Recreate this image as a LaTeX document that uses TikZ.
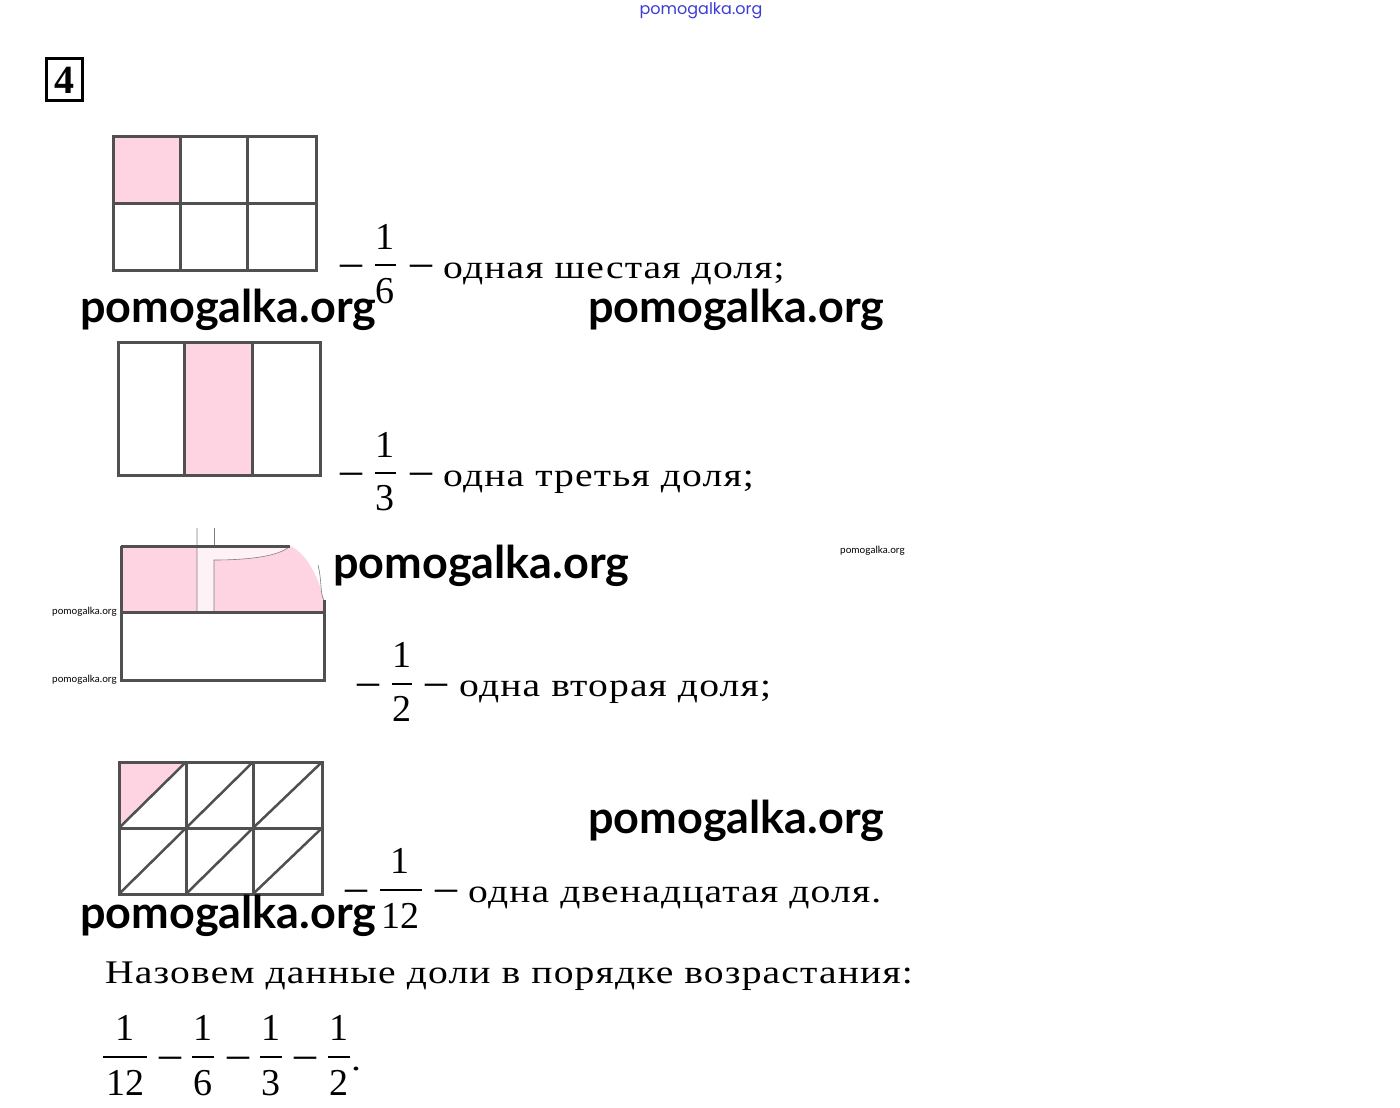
\documentclass[tikz,border=0pt]{standalone}
\usepackage{fontspec}
\setmainfont{Liberation Serif}
\newfontfamily\txtfont[FakeStretch=1.2,LetterSpace=3.5]{Liberation Serif}
\newfontfamily\wmfont{Lato}
\newfontfamily\topfont{Poppins}
\definecolor{pinkc}{RGB}{255,212,226}
\definecolor{gridc}{RGB}{80,80,80}
\definecolor{wmblue}{RGB}{60,60,215}
\begin{document}
\begin{tikzpicture}[x=1pt,y=-1pt,
  gridln/.style={line width=3pt, draw=gridc},
  txt/.style={anchor=base west, inner sep=0pt, font=\txtfont\fontsize{33}{40}\selectfont},
  num/.style={anchor=base, inner sep=0pt, font=\fontsize{38}{44}\selectfont},
  dsh/.style={anchor=base, inner sep=0pt, font=\fontsize{44}{50}\selectfont},
  fbar/.style={line width=2.5pt},
  wm/.style={anchor=base west, inner sep=0pt, font=\wmfont\bfseries\fontsize{45}{50}\selectfont},
  wms/.style={anchor=base west, inner sep=0pt, font=\wmfont\fontsize{10}{12}\selectfont},
]
\useasboundingbox (0,0) rectangle (1400,1108);
\fill[white] (0,0) rectangle (1400,1108);

% top watermark
\node[anchor=center, inner sep=0pt, text=wmblue, font=\topfont\fontsize{16}{18}\selectfont] (topwm) at (701,11) {pomogalka.org};

% task number
\draw[line width=3pt] (46,59) rectangle (82,100);
\node[anchor=base, inner sep=0pt, font=\bfseries\fontsize{40}{42}\selectfont] (task) at (64,93) {4};

% ---- grid 1 (1/6)
\fill[pinkc] (113,136) rectangle (180,203);
\draw[gridln] (113,136) rectangle (316,270);
\draw[gridln] (180,136)--(180,270) (247,136)--(247,270) (113,203)--(316,203);
\node[dsh] (a1) at (351,276) {–};
\node[num] (an) at (385,249) {1};
\draw[fbar] (375,265)--(396,265);
\node[num] (ad) at (385,303) {6};
\node[dsh] (a2) at (421,276) {–};
\node[txt] (at) at (443,278) {одная шестая доля;};

% ---- grid 2 (1/3)
\fill[pinkc] (184,342) rectangle (252,475);
\draw[gridln] (118,342) rectangle (320,475);
\draw[gridln] (184,342)--(184,475) (252,342)--(252,475);
\node[dsh] (b1) at (351,484) {–};
\node[num] (bn) at (385,457) {1};
\draw[fbar] (375,473)--(396,473);
\node[num] (bd) at (385,510) {3};
\node[dsh] (b2) at (421,484) {–};
\node[txt] (bt) at (443,486) {одна третья доля;};

% ---- grid 3 (1/2)
\fill[pinkc] (121,546) -- (290,546) .. controls (305,552) and (318,575) .. (324,600) -- (324,612) -- (121,612) -- cycle;
\fill[white, opacity=0.7] (197,528) rectangle (214,613);
\fill[white, opacity=0.7] (214,546) -- (290,546) .. controls (280,556) and (250,560) .. (214,560) -- cycle;
\draw[gray, line width=0.6pt] (197,528) -- (197,613) -- (214,613) -- (214,560) .. controls (250,560) and (280,556) .. (290,546);
\draw[gray, line width=0.6pt] (214,528) -- (214,545);
\draw[gray, line width=0.6pt] (318,565) .. controls (322,580) and (320,595) .. (324,600);
\draw[gridln] (121,546) -- (290,546);
\draw[gridln] (121,546) -- (121,680) -- (324,680) -- (324,600);
\draw[gridln] (121,612) -- (324,612);
\node[wms] (s1) at (52,614) {pomogalka.org};
\node[wms] (s2) at (52,682) {pomogalka.org};
\node[wms] (s3) at (840,553) {pomogalka.org};
\node[dsh] (c1) at (368,695) {–};
\node[num] (cn) at (402,667) {1};
\draw[fbar] (392,684)--(412,684);
\node[num] (cd) at (402,721) {2};
\node[dsh] (c2) at (436,695) {–};
\node[txt] (ct) at (459,696) {одна вторая доля;};

% ---- grid 4 (1/12)
\fill[pinkc] (119,762) -- (186,762) -- (119,828) -- cycle;
\draw[gridln] (119,762) rectangle (322,894);
\draw[gridln] (186,762)--(186,894) (253,762)--(253,894) (119,828)--(322,828);
\draw[gridln, line width=2.5pt] (119,828)--(186,762) (186,828)--(253,762) (253,828)--(322,762)
  (119,894)--(186,828) (186,894)--(253,828) (253,894)--(322,828);
\node[dsh] (d1) at (356,901) {–};
\node[num] (dn) at (400,873) {1};
\draw[fbar] (380,890)--(422,890);
\node[num] (dd) at (400,928) {12};
\node[dsh] (d2) at (446,901) {–};
\node[txt] (dt) at (468,902) {одна двенадцатая доля.};

% ---- conclusion
\node[txt] (concl) at (105,983) {Назовем данные доли в порядке возрастания:};
\node[num] (e1n) at (125,1040) {1};
\draw[fbar] (103,1057)--(147,1057);
\node[num] (e1d) at (125,1095) {12};
\node[dsh] (e1s) at (170,1068) {–};
\node[num] (e2n) at (203,1040) {1};
\draw[fbar] (192,1057)--(214,1057);
\node[num] (e2d) at (203,1095) {6};
\node[dsh] (e2s) at (238,1068) {–};
\node[num] (e3n) at (271,1040) {1};
\draw[fbar] (260,1057)--(282,1057);
\node[num] (e3d) at (271,1095) {3};
\node[dsh] (e3s) at (305,1068) {–};
\node[num] (e4n) at (339,1040) {1};
\draw[fbar] (328,1057)--(350,1057);
\node[num] (e4d) at (339,1095) {2};
\node[txt] (dot) at (351,1070) {.};

% ---- big watermarks
\node[wm] (w1) at (80,322) {pomogalka.org};
\node[wm] (w2) at (588,322) {pomogalka.org};
\node[wm] (w3) at (333,578) {pomogalka.org};
\node[wm] (w4) at (588,833) {pomogalka.org};
\node[wm] (w5) at (80,928) {pomogalka.org};
\end{tikzpicture}
\end{document}
